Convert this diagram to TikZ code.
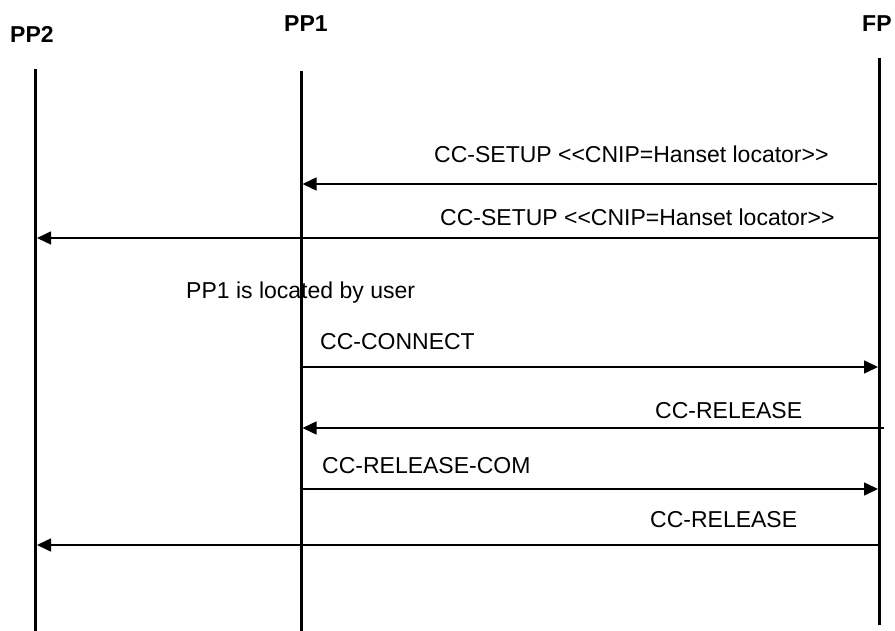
\documentclass[tikz,border=0pt]{standalone}
\usepackage{fontspec}
\setmainfont{Liberation Sans}
\usetikzlibrary{arrows.meta}
\begin{document}
\begin{tikzpicture}[x=1pt,y=-1pt,
  lifeline/.style={line width=3pt},
  msg/.style={line width=1.5pt,-{Triangle[length=14pt,width=13pt]}},
  msgtxt/.style={anchor=base west,inner sep=0pt,font=\fontsize{23}{26}\selectfont},
  title/.style={anchor=base west,inner sep=0pt,font=\fontsize{23}{26}\selectfont\bfseries}]
\useasboundingbox (0,0) rectangle (895,631);
% titles
\node[title] (tpp2) at (10,43) {PP2};
\node[title] (tpp1) at (284,32) {PP1};
\node[title] (tfp) at (862,32) {FP};
% lifelines
\coordinate (pp2top) at (35.5,69);
\coordinate (pp2bot) at (35.5,631);
\coordinate (pp1top) at (301,71);
\coordinate (pp1bot) at (301,631);
\coordinate (fptop) at (879,58);
\coordinate (fpbot) at (879,625);
\draw[lifeline] (pp2top) -- (pp2bot);
\draw[lifeline] (pp1top) -- (pp1bot);
\draw[lifeline] (fptop) -- (fpbot);
% message end points
\coordinate (a1s) at (877,184); \coordinate (a1e) at (302.5,184);
\coordinate (a2s) at (878,238); \coordinate (a2e) at (37,238);
\coordinate (a4s) at (301,367); \coordinate (a4e) at (878,367);
\coordinate (a5s) at (884,428); \coordinate (a5e) at (302.5,428);
\coordinate (a6s) at (301,489); \coordinate (a6e) at (878,489);
\coordinate (a7s) at (878,545); \coordinate (a7e) at (37,545);
\draw[msg] (a1s) -- (a1e);
\draw[msg] (a2s) -- (a2e);
\draw[msg] (a4s) -- (a4e);
\draw[msg] (a5s) -- (a5e);
\draw[msg] (a6s) -- (a6e);
\draw[msg] (a7s) -- (a7e);
% labels
\node[msgtxt] (l1) at (434,163) {CC-SETUP <{}<CNIP=Hanset locator>{}>};
\node[msgtxt] (l2) at (440,226) {CC-SETUP <{}<CNIP=Hanset locator>{}>};
\node[msgtxt] (l3) at (186,299) {PP1 is located by user};
\node[msgtxt] (l4) at (320,349) {CC-CONNECT};
\node[msgtxt] (l5) at (655,418) {CC-RELEASE};
\node[msgtxt] (l6) at (322,473) {CC-RELEASE-COM};
\node[msgtxt] (l7) at (650,527) {CC-RELEASE};
\end{tikzpicture}
\end{document}
